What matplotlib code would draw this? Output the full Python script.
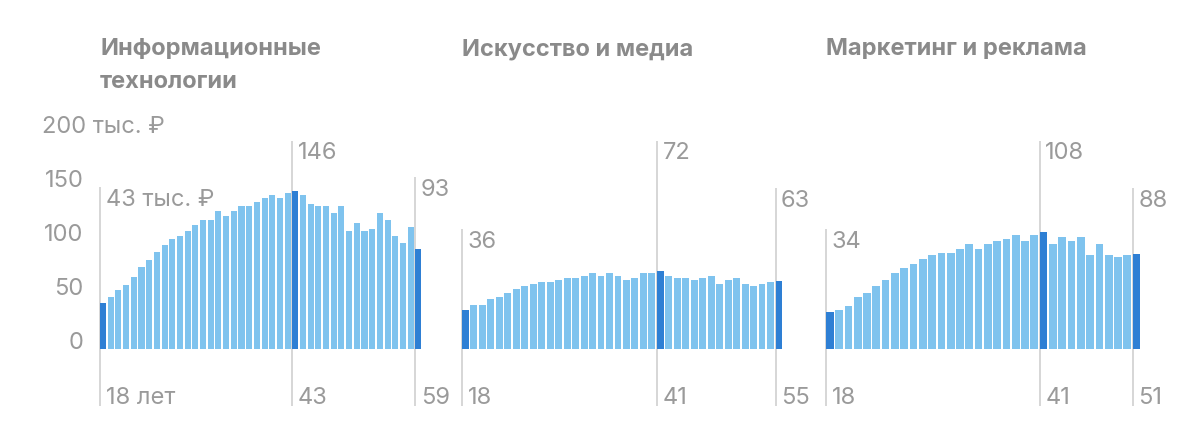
import matplotlib
matplotlib.use("Agg")
import matplotlib.pyplot as plt

plt.rcParams['font.family'] = ['Inter', 'DejaVu Sans']

# данные: средняя зарплата по возрасту, тыс. ₽
titles = ["Информационные\nтехнологии", "Искусство и медиа", "Маркетинг и реклама"]
age_start = [18, 18, 18]
age_peak = [43, 41, 41]
age_end = [59, 55, 51]

it_vals = [43, 48, 55, 59, 67, 76, 82, 90, 96, 102,
           105, 109, 115, 119, 119, 128, 123, 128, 132, 132,
           136, 140, 143, 140, 144, 146, 143, 134, 132, 132,
           126, 132, 109, 117, 109, 111, 126, 119, 105, 98,
           113, 93]
media_vals = [36, 41, 41, 46, 48, 52, 56, 58, 60, 62,
              62, 64, 66, 66, 68, 70, 68, 70, 68, 64,
              66, 70, 70, 72, 68, 66, 66, 64, 66, 68,
              60, 64, 66, 60, 58, 60, 62, 63]
mkt_vals = [34, 36, 40, 48, 52, 58, 64, 70, 75, 79,
            83, 87, 89, 89, 93, 97, 93, 97, 100, 102,
            106, 100, 106, 108, 97, 104, 100, 104, 87, 97,
            87, 85, 87, 88]
series = [it_vals, media_vals, mkt_vals]

yticks = [0, 50, 100, 150]
ytop_label = "200 тыс. ₽"

# оформление
light = "#7fc3ee"
dark = "#2e7fd4"
txt = "#9a9a9a"
title_c = "#8a8a8a"
line_c = "#cfcfcf"
W, H = 1200, 435
panels_px = [(100, 423), (462, 784), (826, 1142)]
base_px = 350
unit_px = 1.08
fs_num = 17
# высоты подписей над графиком (в единицах оси)
label_y = [(139, 182, 148), (100, 182, 138), (100, 182, 138)]
bottom_y = -44
line_bottom = -53

fig = plt.figure(figsize=(W / 100, H / 100), dpi=100)

for k, vals in enumerate(series):
    x0, x1 = panels_px[k]
    ax = fig.add_axes([x0 / W, (H - base_px) / H, (x1 - x0) / W, 200 * unit_px / H])
    n = len(vals)
    ages = list(range(age_start[k], age_end[k] + 1))
    hl = [0, ages.index(age_peak[k]), n - 1]
    spacing = (x1 - x0) / n
    width = 1 - 1.6 / spacing
    colors = [dark if i in hl else light for i in range(n)]
    ax.bar(range(n), vals, width=width, align='edge', color=colors, zorder=3)
    ax.set_xlim(0, n)
    ax.set_ylim(0, 200)
    ax.axis('off')

    top_texts = [f"{vals[0]} тыс. ₽" if k == 0 else str(vals[0]),
                 str(vals[hl[1]]), str(vals[-1])]
    bot_texts = [f"{age_start[k]} лет" if k == 0 else str(age_start[k]),
                 str(age_peak[k]), str(age_end[k])]
    for j, i in enumerate(hl):
        ly = label_y[k][j]
        ax.plot([i, i], [line_bottom, ly + 11], color=line_c, lw=1.2,
                zorder=1, clip_on=False, solid_capstyle='butt')
        ax.annotate(top_texts[j], xy=(i, ly), xytext=(4, 0), textcoords='offset points',
                    ha='left', va='center', fontsize=fs_num, color=txt, annotation_clip=False)
        ax.annotate(bot_texts[j], xy=(i, bottom_y), xytext=(4, 0), textcoords='offset points',
                    ha='left', va='center', fontsize=fs_num, color=txt, annotation_clip=False)

    fig.text(x0 / W, 1 - 38 / H, titles[k], ha='left', va='top', fontsize=17,
             fontweight='bold', color=title_c, linespacing=1.65)

    if k == 0:
        for v in yticks:
            ax.annotate(str(v), xy=(0, v), xytext=(-12, 1), textcoords='offset points',
                        ha='right', va='baseline', fontsize=fs_num, color=txt,
                        annotation_clip=False)
        ax.annotate(ytop_label, xy=(0, 200), xytext=(-42, 1), textcoords='offset points',
                    ha='left', va='baseline', fontsize=fs_num, color=txt,
                    annotation_clip=False)

fig.savefig("out.png", dpi=100, facecolor='white')
